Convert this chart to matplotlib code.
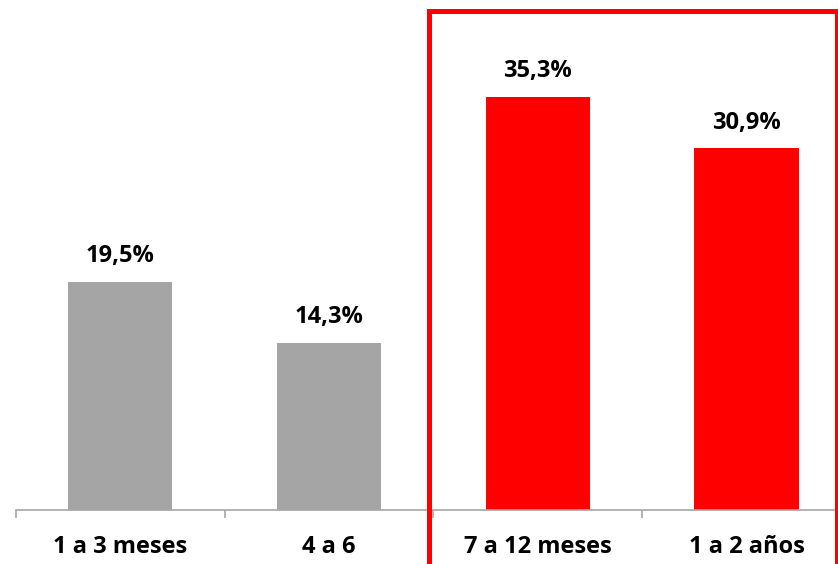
import numpy as np
import matplotlib
matplotlib.use("Agg")
from matplotlib import pyplot as plt
from matplotlib.patches import Rectangle

# Data
categories = ["1 a 3 meses", "4 a 6", "7 a 12 meses", "1 a 2 años"]
values = [19.5, 14.3, 35.3, 30.9]
bar_colors = ["#a5a5a5", "#a5a5a5", "#ff0000", "#ff0000"]

plt.rcParams['font.family'] = ['Open Sans', 'DejaVu Sans']
plt.rcParams['font.weight'] = 'bold'

W, H = 838, 564
fig = plt.figure(figsize=(W / 100, H / 100), dpi=100)
# axes spans 4 categories of ~209 px, starting at x=15.7, baseline at y=510
ax = fig.add_axes([15.7 / W, (H - 510) / H, 4 * 208.8 / W, 468 / H])

x = np.arange(len(categories))
ax.bar(x, values, width=0.5, color=bar_colors, zorder=2)
ax.set_xlim(-0.5, len(categories) - 0.5)
ax.set_ylim(0, 40)

# value labels
for xi, v in zip(x, values):
    ax.annotate(f"{v:.1f}%".replace(".", ","), (xi, v), xytext=(0, 14.2),
                textcoords="offset points", ha="center", va="baseline",
                fontsize=17, fontweight="bold", color="black")

# axes styling
for s in ["top", "right", "left"]:
    ax.spines[s].set_visible(False)
ax.spines["bottom"].set_color("#a6a6a6")
ax.spines["bottom"].set_linewidth(1.2)
ax.set_yticks([])
ax.set_xticks(x)
ax.set_xticklabels(categories, fontsize=17, fontweight="bold")
ax.tick_params(axis="x", which="major", length=0, pad=31)
for lab in ax.get_xticklabels():
    lab.set_va("baseline")
ax.set_xticks(np.arange(len(categories) + 1) - 0.5, minor=True)
ax.tick_params(axis="x", which="minor", length=5.8, width=1.2, color="#a6a6a6",
               direction="out")

# red highlight box around last two categories
box = Rectangle((428.5 / W, -0.1), (836.5 - 428.5) / W, 1.1 - 11.5 / H,
                transform=fig.transFigure, fill=False, edgecolor="#ff0000",
                linewidth=3.6, clip_on=False, zorder=5)
fig.patches.append(box)

fig.savefig("out.png", dpi=100)
